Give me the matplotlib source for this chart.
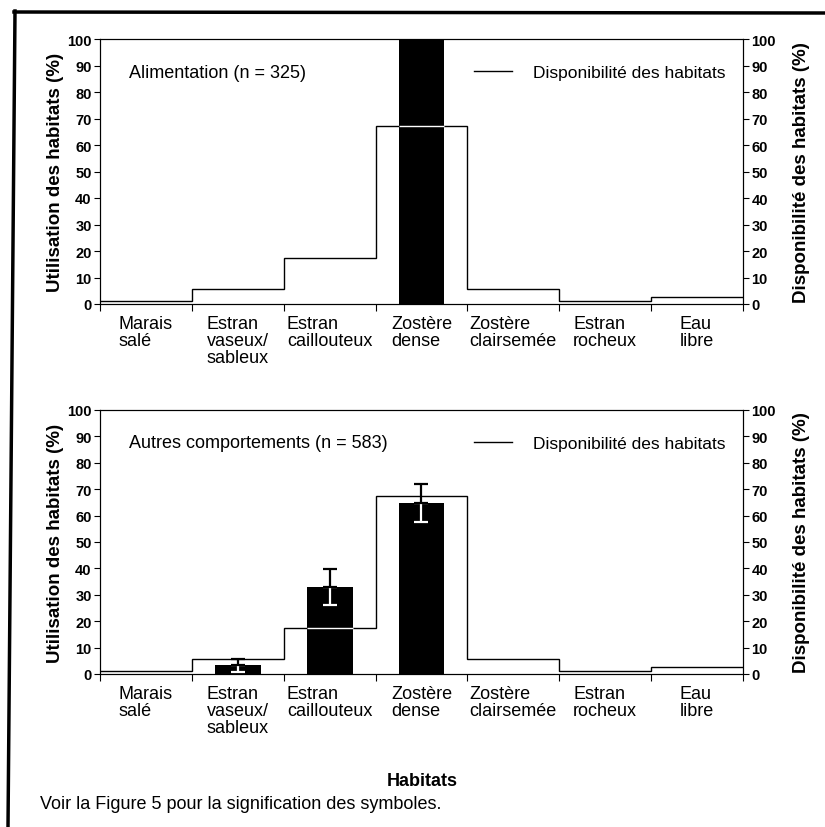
import matplotlib
matplotlib.use('Agg')
import matplotlib.pyplot as plt
from matplotlib.lines import Line2D
import numpy as np

plt.rcParams['font.family'] = ['Liberation Sans', 'DejaVu Sans']

habitats = ['Marais\nsalé', 'Estran\nvaseux/\nsableux', 'Estran\ncaillouteux',
            'Zostère\ndense', 'Zostère\nclairsemée', 'Estran\nrocheux', 'Eau\nlibre']

# disponibilité des habitats (%) - identique pour les deux panneaux
dispo = [1.2, 5.7, 17.5, 67.3, 5.7, 1.3, 2.7]

# utilisation (%)
util_alim = [0, 0, 0, 100, 0, 0, 0]
util_autres = [0, 3.3, 33.0, 64.8, 0, 0, 0]
err_autres = [0, 2.5, 6.7, 7.2, 0, 0, 0]

titres = ['Alimentation (n = 325)', 'Autres comportements (n = 583)']

fig = plt.figure(figsize=(8.25, 8.28), dpi=100)

# cadre de la page (haut et gauche), légèrement penché comme sur le scan
fig.add_artist(Line2D([14/825, 1.0], [1-13/828, 1-14/828], color='black', lw=2.5))
fig.add_artist(Line2D([15/825, 8/825], [1-12/828, 0], color='black', lw=2.5))

positions = [[100/825, 1-305/828, 643/825, 265/828],
             [100/825, 1-675/828, 643/825, 264/828]]
donnees = [(util_alim, None), (util_autres, err_autres)]

n = len(habitats)
centres = np.arange(n) + 0.5
bords = np.arange(n + 1)

for k in range(2):
    ax = fig.add_axes(positions[k])
    util, err = donnees[k]

    ax.stairs(dispo, bords, baseline=None, color='black', lw=1.0, zorder=2)
    ax.bar(centres, util, width=0.5, color='black', zorder=3)

    # ligne de disponibilité en blanc à l'intérieur des barres
    for i in range(n):
        if util[i] > dispo[i]:
            ax.hlines(dispo[i], centres[i] - 0.25, centres[i] + 0.25,
                      color='white', lw=1.0, zorder=4)

    if err is not None:
        for i in range(n):
            if err[i] > 0:
                ax.errorbar(centres[i], util[i], yerr=[[err[i]], [0]],
                            color='white', capsize=5, elinewidth=1.6,
                            capthick=1.6, zorder=5)
                ax.errorbar(centres[i], util[i], yerr=[[0], [err[i]]],
                            color='black', capsize=5, elinewidth=1.6,
                            capthick=1.6, zorder=6)

    ax.set_xlim(0, n)
    ax.set_ylim(0, 100)
    ax.set_yticks(np.arange(0, 101, 10))
    ax.set_xticks(bords)
    ax.set_xticklabels([])
    ax.set_xticks(centres, minor=True)
    ax.set_xticklabels(habitats, minor=True, fontsize=13,
                       multialignment='left', linespacing=1.0)
    ax.tick_params(axis='x', which='major', direction='out', length=5, width=0.8)
    ax.tick_params(axis='x', which='minor', length=0, pad=8)
    ax.tick_params(axis='y', direction='out', length=4, width=0.8, pad=2)
    for lab in ax.get_yticklabels():
        lab.set_fontsize(10.5)
        lab.set_fontweight('bold')
    for sp in ax.spines.values():
        sp.set_linewidth(0.8)

    ax.set_ylabel('Utilisation des habitats (%)', fontsize=13.5, fontweight='bold',
                  labelpad=2)

    ax2 = ax.twinx()
    ax2.set_ylim(0, 100)
    ax2.set_yticks(np.arange(0, 101, 10))
    ax2.tick_params(axis='y', direction='out', length=4, width=0.8, pad=2)
    for lab in ax2.get_yticklabels():
        lab.set_fontsize(10.5)
        lab.set_fontweight('bold')
    ax2.set_ylabel('Disponibilité des habitats (%)', fontsize=13.5, fontweight='bold',
                   labelpad=12)

    ax.text(0.045, 0.875, titres[k], transform=ax.transAxes, fontsize=13,
            va='center', ha='left')
    ax.legend([Line2D([0], [0], color='black', lw=1.0)],
              ['Disponibilité des habitats'], loc='center right',
              bbox_to_anchor=(1.0, 0.875), frameon=False, fontsize=12.5,
              handlelength=2.2, handletextpad=1.2, borderaxespad=0.6)

fig.text(422/825, 1-782/828, 'Habitats', fontsize=13, fontweight='bold',
         ha='center', va='center')
fig.text(40/825, 1-805/828, 'Voir la Figure 5 pour la signification des symboles.',
         fontsize=13, ha='left', va='center')

fig.savefig('out.png', dpi=100)
plt.close()
